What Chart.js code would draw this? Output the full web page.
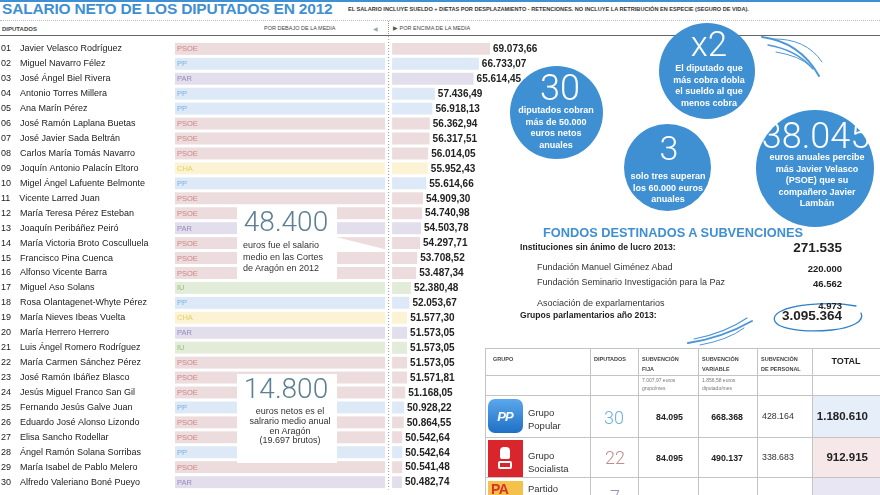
<!DOCTYPE html>
<html>
<head>
<meta charset="utf-8">
<script src="https://cdn.jsdelivr.net/npm/chart.js@4"></script>
<style>
body{margin:0;width:880px;height:495px;overflow:hidden;background:#fff;position:relative;font-family:"Liberation Sans",Arial,sans-serif;color:#222}
.a{position:absolute;white-space:nowrap;line-height:1}
.c{transform:translateX(-50%);text-align:center}
.r{transform:translateX(-100%)}
.circ{position:absolute;border-radius:50%;background:#3f8fd3}
.big{font-family:Roboto,"Liberation Sans",sans-serif;font-weight:300}
.w{color:#fff;font-weight:bold;font-size:9px}
.h{font-size:5.5px;color:#444;font-weight:bold}
.hl{position:absolute;height:1px;background:#c4c4c4}
.vl{position:absolute;width:1px;background:#c4c4c4}
.box{position:absolute;background:#fff}
#grafico{position:absolute;left:0;top:36px}
</style>
</head>
<body>
<div style="position:absolute;left:0;top:0;width:880px;height:2px;background:#3f8fd3"></div>
<div class="a" style="left:2px;top:1px;font-size:15.5px;font-weight:bold;color:#3f8fd3;letter-spacing:-0.2px">SALARIO NETO DE LOS DIPUTADOS EN 2012</div>
<div class="a" style="left:348px;top:7px;font-size:5.6px;font-weight:bold;color:#333">EL SALARIO INCLUYE SUELDO + DIETAS POR DESPLAZAMIENTO - RETENCIONES. NO INCLUYE LA RETRIBUCIÓN EN ESPECIE (SEGURO DE VIDA).</div>
<div style="position:absolute;left:0;top:20px;width:880px;border-top:1px dotted #bbb"></div>
<div class="a h" style="left:2px;top:26px;font-size:6px">DIPUTADOS</div>
<div class="a h" style="left:264px;top:26px;font-weight:normal">POR DEBAJO DE LA MEDIA</div>
<div class="a" style="left:373px;top:26px;font-size:6px;color:#9aa">&#9664;</div>
<div class="a h" style="left:393px;top:26px;font-weight:normal"><span style="color:#555">&#9654;</span> POR ENCIMA DE LA MEDIA</div>
<div style="position:absolute;left:388px;top:21px;height:15px;border-left:1px dotted #999"></div>
<div style="position:absolute;left:0;top:35px;width:880px;height:1px;background:#666"></div>

<canvas id="grafico" width="560" height="459"></canvas>

<!-- recuadros sobre las barras -->
<div class="box" style="left:237px;top:206px;width:100px;height:74px"></div>
<div class="box" style="left:237px;top:374px;width:100px;height:89px"></div>
<svg style="position:absolute;left:0;top:0" width="880" height="495">
  <polygon points="336,237 386,249.5 336,249.5" fill="#fff"/>
  <g fill="none" stroke="#4d97d6" stroke-linecap="round">
    <path d="M762,37 Q800,42 819,76" stroke-width="2"/>
    <path d="M768,45 Q797,50 813,69" stroke-width="1.3"/>
    <path d="M772,39 Q806,38 822,62" stroke-width="1"/>
    <path d="M776,52 Q800,56 810,66" stroke-width="1"/>
    <path d="M688,343 Q722,338 752,321" stroke-width="2"/>
    <path d="M694,339 Q725,333 747,318" stroke-width="1.2"/>
    <path d="M700,345 Q728,340 744,328" stroke-width="1"/>
    <path d="M856,306 C830,301 783,304 775,316 C769,328 800,333 832,330 C852,328 865,321 861,313" stroke="#2f80c8" stroke-width="1.3"/>
  </g>
</svg>
<div class="a big" style="left:286px;top:208px;font-size:28px;color:#5d7f94;transform:translateX(-50%)">48.400</div>
<div class="a" style="left:243px;top:240px;font-size:9px;color:#333;line-height:11.5px">euros fue el salario<br>medio en las Cortes<br>de Aragón en 2012</div>
<div class="a big" style="left:286px;top:375px;font-size:28px;color:#5d7f94;transform:translateX(-50%)">14.800</div>
<div class="a c" style="left:290px;top:407px;font-size:9px;color:#333;line-height:9.8px">euros netos es el<br>salrario medio anual<br>en Aragón<br>(19.697 brutos)</div>

<!-- circulos -->
<div class="circ" style="left:510px;top:66px;width:93px;height:93px"></div>
<div class="circ" style="left:659px;top:23px;width:96px;height:96px"></div>
<div class="circ" style="left:624px;top:124px;width:87px;height:87px"></div>
<div class="circ" style="left:756px;top:110px;width:118px;height:117px"></div>
<div class="a c big" style="left:560px;top:70px;font-size:36px;color:#fff">30</div>
<div class="a c w" style="left:556px;top:105px;line-height:11.7px">diputados cobran<br>más de 50.000<br>euros netos<br>anuales</div>
<div class="a c big" style="left:709px;top:27px;font-size:35px;color:#fff">x2</div>
<div class="a c w" style="left:709px;top:63px;line-height:11.7px">El diputado que<br>más cobra dobla<br>el sueldo al que<br>menos cobra</div>
<div class="a c big" style="left:669px;top:131px;font-size:34px;color:#fff">3</div>
<div class="a c w" style="left:668px;top:171px;line-height:11.5px">solo tres superan<br>los 60.000 euros<br>anuales</div>
<div class="a c big" style="left:816px;top:118px;font-size:36px;color:#fff">38.045</div>
<div class="a c w" style="left:817px;top:152px;line-height:11.6px">euros anuales percibe<br>más Javier Velasco<br>(PSOE) que su<br>compañero Javier<br>Lambán</div>

<!-- fondos -->
<div class="a c" style="left:673px;top:227px;font-size:12.8px;font-weight:bold;color:#3f8fd3">FONDOS DESTINADOS A SUBVENCIONES</div>
<div class="a" style="left:520px;top:243px;font-size:8.6px;font-weight:bold">Instituciones sin ánimo de lucro 2013:</div>
<div class="a r" style="left:842px;top:241px;font-size:13.5px;font-weight:bold">271.535</div>
<div class="a" style="left:537px;top:263px;font-size:9px;color:#333">Fundación Manuel Giménez Abad</div>
<div class="a r" style="left:842px;top:264px;font-size:9.5px;font-weight:bold">220.000</div>
<div class="a" style="left:537px;top:278px;font-size:9px;color:#333">Fundación Seminario Investigación para la Paz</div>
<div class="a r" style="left:842px;top:279px;font-size:9.5px;font-weight:bold">46.562</div>
<div class="a" style="left:537px;top:299px;font-size:9px;color:#333">Asociación de exparlamentarios</div>
<div class="a r" style="left:842px;top:301px;font-size:9.5px;font-weight:bold">4.973</div>
<div class="a" style="left:520px;top:311px;font-size:8.6px;font-weight:bold">Grupos parlamentarios año 2013:</div>
<div class="a r" style="left:842px;top:309px;font-size:13.5px;font-weight:bold">3.095.364</div>

<!-- tabla -->
<div style="position:absolute;left:812px;top:395px;width:68px;height:42px;background:#e6eef9"></div>
<div style="position:absolute;left:812px;top:437px;width:68px;height:40px;background:#f6e8e8"></div>
<div style="position:absolute;left:812px;top:477px;width:68px;height:18px;background:#e9e6f3"></div>
<div class="hl" style="left:485px;top:348px;width:395px"></div>
<div class="hl" style="left:485px;top:375px;width:395px"></div>
<div class="hl" style="left:485px;top:395px;width:395px"></div>
<div class="hl" style="left:485px;top:437px;width:395px"></div>
<div class="hl" style="left:485px;top:477px;width:395px"></div>
<div class="vl" style="left:485px;top:348px;height:147px"></div>
<div class="vl" style="left:590px;top:348px;height:147px"></div>
<div class="vl" style="left:638px;top:348px;height:147px"></div>
<div class="vl" style="left:698px;top:348px;height:147px"></div>
<div class="vl" style="left:757px;top:348px;height:147px"></div>
<div class="vl" style="left:812px;top:348px;height:147px"></div>
<div class="a h" style="left:493px;top:357px">GRUPO</div>
<div class="a h" style="left:594px;top:357px">DIPUTADOS</div>
<div class="a h" style="left:642px;top:354px;line-height:10px">SUBVENCIÓN<br>FIJA</div>
<div class="a h" style="left:702px;top:354px;line-height:10px">SUBVENCIÓN<br>VARIABLE</div>
<div class="a h" style="left:761px;top:354px;line-height:10px">SUBVENCIÓN<br>DE PERSONAL</div>
<div class="a c" style="left:846px;top:357px;font-size:9px;font-weight:bold">TOTAL</div>
<div class="a" style="left:642px;top:377px;font-size:5px;color:#777;line-height:7.5px">7.007,97 euros<br>grupo/mes</div>
<div class="a" style="left:702px;top:377px;font-size:5px;color:#777;line-height:7.5px">1.856,58 euros<br>diputado/mes</div>

<div style="position:absolute;left:488px;top:399px;width:35px;height:34px;border-radius:7px;background:linear-gradient(#5aa8ec,#1f6fc5)"></div>
<div class="a c" style="left:505px;top:410px;font-size:13px;font-weight:bold;font-style:italic;color:#fff;letter-spacing:-1px">PP</div>
<div class="a" style="left:528px;top:406px;font-size:9.5px;color:#333;line-height:13px">Grupo<br>Popular</div>
<div class="a c big" style="left:614px;top:409px;font-size:18px;color:#6eb0de">30</div>
<div class="a r" style="left:683px;top:413px;font-size:8.8px;font-weight:bold">84.095</div>
<div class="a r" style="left:743px;top:413px;font-size:8.8px;font-weight:bold">668.368</div>
<div class="a" style="left:762px;top:412px;font-size:8.8px;color:#333">428.164</div>
<div class="a r" style="left:868px;top:411px;font-size:11.5px;font-weight:bold">1.180.610</div>

<div style="position:absolute;left:488px;top:440px;width:35px;height:37px;background:#d9262c"></div>
<div style="position:absolute;left:500px;top:447px;width:10px;height:12px;border-radius:4px 4px 2px 2px;background:#fff"></div>
<div style="position:absolute;left:498px;top:461px;width:14px;height:8px;border-radius:2px;border:2px solid #fff;box-sizing:border-box"></div>
<div class="a" style="left:528px;top:449px;font-size:9.5px;color:#333;line-height:13px">Grupo<br>Socialista</div>
<div class="a c big" style="left:615px;top:449px;font-size:18px;color:#c48a8a">22</div>
<div class="a r" style="left:683px;top:454px;font-size:8.8px;font-weight:bold">84.095</div>
<div class="a r" style="left:743px;top:454px;font-size:8.8px;font-weight:bold">490.137</div>
<div class="a" style="left:762px;top:453px;font-size:8.8px;color:#333">338.683</div>
<div class="a r" style="left:868px;top:452px;font-size:11.5px;font-weight:bold">912.915</div>

<div style="position:absolute;left:488px;top:481px;width:35px;height:16px;background:#f4c24a;overflow:hidden">
  <div class="a" style="left:3px;top:1px;font-size:14px;font-weight:bold;color:#d8342a;letter-spacing:-0.5px">PA</div>
</div>
<div class="a" style="left:528px;top:484px;font-size:9.5px;color:#333">Partido</div>
<div class="a c big" style="left:615px;top:488px;font-size:18px;color:#9a8fc0">7</div>

<script>
const MEDIA = 48400

const nombres = ["Javier Velasco Rodríguez","Miguel Navarro Félez","José Ángel Biel Rivera","Antonio Torres Millera","Ana Marín Pérez","José Ramón Laplana Buetas","José Javier Sada Beltrán","Carlos María Tomás Navarro","Joquín Antonio Palacín Eltoro","Migel Ángel Lafuente Belmonte","Vicente Larred Juan","María Teresa Pérez Esteban","Joaquín Peribáñez Peiró","María Victoria Broto Cosculluela","Francisco Pina Cuenca","Alfonso Vicente Barra","Miguel Aso Solans","Rosa Olantagenet-Whyte Pérez","María Nieves Ibeas Vuelta","María Herrero Herrero","Luis Ángel Romero Rodríguez","María Carmen Sánchez Pérez","José Ramón Ibáñez Blasco","Jesús Miguel Franco San Gil","Fernando Jesús Galve Juan","Eduardo José Alonso Lizondo","Elisa Sancho Rodellar","Ángel Ramón Solana Sorribas","María Isabel de Pablo Melero","Alfredo Valeriano Boné Pueyo"]

const partidos = ["PSOE","PP","PAR","PP","PP","PSOE","PSOE","PSOE","CHA","PP","PSOE","PSOE","PAR","PSOE","PSOE","PSOE","IU","PP","CHA","PAR","IU","PSOE","PSOE","PSOE","PP","PSOE","PSOE","PP","PSOE","PAR"]

const salarios = [69073.66,66733.07,65614.45,57436.49,56918.13,56362.94,56317.51,56014.05,55952.43,55614.66,54909.30,54740.98,54503.78,54297.71,53708.52,53487.34,52380.48,52053.67,51577.30,51573.05,51573.05,51573.05,51571.81,51168.05,50928.22,50864.55,50542.64,50542.64,50541.48,50482.74]

const fondo = {PSOE:"#eddcdd", PP:"#dde9f6", PAR:"#e2deec", CHA:"#fbf3d3", IU:"#e2ecd9"}
const tinta = {PSOE:"#cf8585", PP:"#78b2e0", PAR:"#958bc0", CHA:"#e6cf5e", IU:"#97c07a"}

function fmt(v){
  const partes = v.toFixed(2).split(".")
  return partes[0].replace(/\B(?=(\d{3})+(?!\d))/g, ".") + "," + partes[1]
}

const etiquetas = nombres.map((n, i) => String(i + 1).padStart(2, "0") + "\u2002\u2002" + n)

// fondo de la columna "por debajo", nombre del partido, linea de la media y valores
const filas = {
  id: "filas",
  beforeDatasetsDraw(chart){
    const {ctx, chartArea, scales: {x}} = chart
    const xm = x.getPixelForValue(MEDIA)
    const x0 = chartArea.left + 12
    ctx.save()
    chart.getDatasetMeta(0).data.forEach((bar, i) => {
      const p = partidos[i]
      ctx.fillStyle = fondo[p]
      ctx.fillRect(x0, bar.y - bar.height / 2, xm - 7 - x0, bar.height)
      ctx.fillStyle = tinta[p]
      ctx.font = '7.5px "Liberation Sans"'
      ctx.textBaseline = "middle"
      ctx.fillText(p, x0 + 2, bar.y + 0.5)
    })
    ctx.strokeStyle = "#999"
    ctx.setLineDash([1, 2])
    ctx.beginPath()
    ctx.moveTo(xm - 3.5, 0)
    ctx.lineTo(xm - 3.5, chartArea.bottom)
    ctx.stroke()
    ctx.restore()
  },
  afterDatasetsDraw(chart){
    const {ctx} = chart
    ctx.save()
    ctx.font = 'bold 10px "Liberation Sans"'
    ctx.fillStyle = "#222"
    ctx.textBaseline = "middle"
    chart.getDatasetMeta(0).data.forEach((bar, i) => {
      ctx.fillText(fmt(salarios[i]), bar.x + 3, bar.y + 0.5)
    })
    ctx.restore()
  }
}

new Chart(document.getElementById("grafico"), {
  type: "bar",
  data: {
    labels: etiquetas,
    datasets: [{
      data: salarios.map(v => [MEDIA, v]),
      backgroundColor: partidos.map(p => fondo[p]),
      borderWidth: 0,
      barPercentage: 0.8,
      categoryPercentage: 1
    }]
  },
  options: {
    indexAxis: "y",
    responsive: false,
    animation: false,
    devicePixelRatio: 1,
    layout: {padding: {left: 1, top: 1, right: 42, bottom: 0}},
    plugins: {legend: {display: false}, tooltip: {enabled: false}},
    scales: {
      x: {display: false, min: 0, max: 75000},
      y: {
        grid: {display: false},
        border: {display: false},
        afterFit: s => { s.width = 162 },
        ticks: {
          autoSkip: false,
          crossAlign: "far",
          padding: 0,
          color: "#222",
          font: {family: "Liberation Sans", size: 9}
        }
      }
    }
  },
  plugins: [filas]
})
</script>
</body>
</html>
